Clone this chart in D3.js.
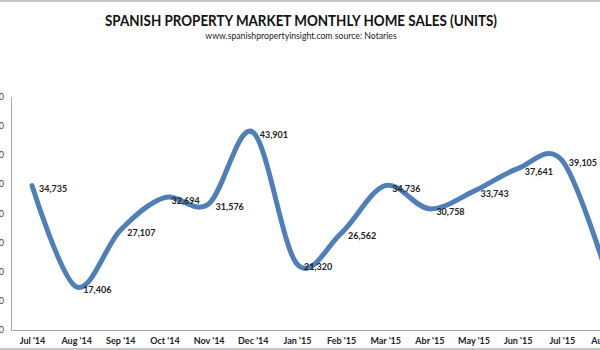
<!DOCTYPE html>
<html>
<head>
<meta charset="utf-8">
<script src="https://cdn.jsdelivr.net/npm/d3@7"></script>
<style>
html,body{margin:0;padding:0;background:#fff;}
svg{display:block;font-family:Lato,"Open Sans",sans-serif;}
</style>
</head>
<body>
<svg id="chart" width="600" height="350"></svg>
<script>
const months = ["Jul '14","Aug '14","Sep '14","Oct '14","Nov '14","Dec '14","Jan '15","Feb '15","Mar '15","Abr '15","May '15","Jun '15","Jul '15","Aug '15"];
const sales = [34735,17406,27107,32694,31576,43901,21320,26562,34736,30758,33743,37641,39105,20000];
const labelled = [true,true,true,true,true,true,true,true,true,true,true,true,true,false];
const yTicks = [10000,15000,20000,25000,30000,35000,40000,45000,50000];
const title = "SPANISH PROPERTY MARKET MONTHLY HOME SALES (UNITS)";
const subtitle = "www.spanishpropertyinsight.com source: Notaries";

const svg = d3.select("#chart");
const x = d3.scalePoint().domain(months).range([32, 606]);
const y = d3.scaleLinear().domain([10000, 50000]).range([330, 96.5]);

// frame lines
svg.append("line").attr("x1",0).attr("x2",600).attr("y1",1).attr("y2",1).attr("stroke","#c8c8c8").attr("stroke-width",2);
svg.append("line").attr("x1",0).attr("x2",600).attr("y1",349).attr("y2",349).attr("stroke","#c8c8c8").attr("stroke-width",2);

svg.append("text").attr("x",301).attr("y",25.5).attr("text-anchor","middle")
  .attr("font-size",15).attr("font-weight","bold").attr("fill","#111")
  .attr("textLength",392).attr("lengthAdjust","spacingAndGlyphs").text(title);
svg.append("text").attr("x",301).attr("y",39).attr("text-anchor","middle")
  .attr("font-size",8.7).attr("fill","#222").text(subtitle);

// y axis
const yAxis = d3.axisLeft(y).tickValues(yTicks).tickSize(0).tickPadding(7).tickFormat(d3.format(","));
const gy = svg.append("g").attr("transform","translate(11,0)").call(yAxis);
gy.select(".domain").attr("stroke","#a6a6a6");
gy.selectAll("text").attr("font-size",9).attr("fill","#444").attr("font-family","Lato,sans-serif");

// x axis
const xAxis = d3.axisBottom(x).tickSize(0).tickPadding(8);
const gx = svg.append("g").attr("transform","translate(0,330)").call(xAxis);
gx.select(".domain").attr("d","M11,0.5H600").attr("stroke","#a6a6a6");
gx.selectAll("text").attr("font-size",9).attr("font-weight","bold").attr("fill","#222").attr("font-family","Lato,sans-serif");

// line
const line = d3.line().x((d,i)=>x(months[i])).y(d=>y(d)).curve(d3.curveCardinal.tension(0));
svg.append("path").datum(sales).attr("d",line).attr("fill","none")
  .attr("stroke","#4f7fb8").attr("stroke-width",5).attr("stroke-linecap","round").attr("stroke-linejoin","round");

// data labels
svg.append("g").selectAll("text").data(sales.map((v,i)=>({v,i})).filter(d=>labelled[d.i])).join("text")
  .attr("x",d=>x(months[d.i])+7).attr("y",d=>y(d.v)+6)
  .attr("font-size",9).attr("font-weight","bold").attr("fill","#222")
  .text(d=>d3.format(",")(d.v));
</script>
</body>
</html>
